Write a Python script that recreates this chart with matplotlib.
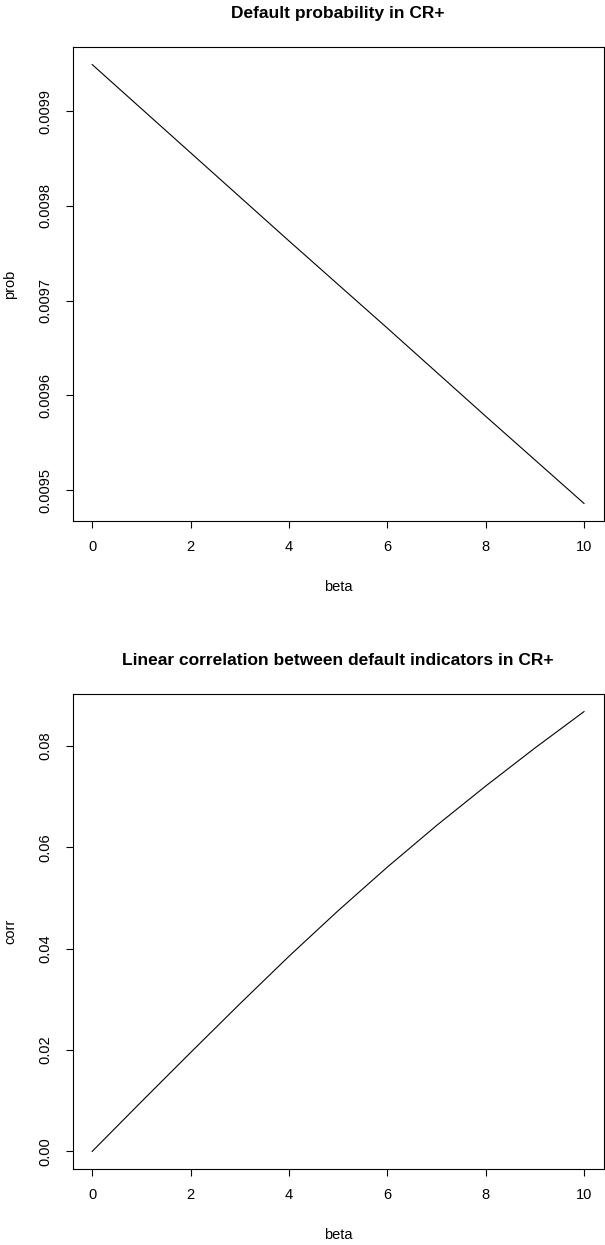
"""Default probability and default-indicator correlation in CR+ versus beta."""
import numpy as np
from matplotlib import pyplot as plt
from matplotlib import rcParams

rcParams["font.family"] = ["Liberation Sans", "DejaVu Sans"]
rcParams["font.size"] = 10.5

# values read along beta
beta = [0, 2, 4, 6, 8, 10]
prob = [0.009949, 0.009856, 0.009763, 0.009671, 0.009578, 0.009486]

beta_corr = [0, 1, 2, 3, 4, 5, 6, 7, 8, 9, 10]
corr = [0.0, 0.0098, 0.0195, 0.0291, 0.0385, 0.0475, 0.0561, 0.0643, 0.0721, 0.0796, 0.0868]

PROB_TICKS = [0.0095, 0.0096, 0.0097, 0.0098, 0.0099]
CORR_TICKS = [0.00, 0.02, 0.04, 0.06, 0.08]
BETA_TICKS = [0, 2, 4, 6, 8, 10]

W, H = 605, 1245
fig = plt.figure(figsize=(W / 100, H / 100), dpi=100)


def r_limits(vals):
    lo, hi = min(vals), max(vals)
    d = 0.04 * (hi - lo)
    return lo - d, hi + d


def panel(box, x, y, title, ylabel, yticks, yfmt):
    left, top, right, bottom = box
    ax = fig.add_axes([left / W, 1 - bottom / H, (right - left) / W, (bottom - top) / H])
    ax.plot(x, y, color="black", lw=0.8)
    ax.set_xlim(r_limits(x))
    ax.set_ylim(r_limits(y))
    ax.set_xticks(BETA_TICKS)
    ax.set_xticklabels([str(b) for b in BETA_TICKS])
    ax.set_yticks(yticks)
    ax.set_yticklabels([yfmt.format(v) for v in yticks], rotation=90, va="center")
    ax.tick_params(direction="out", length=5, width=0.8, color="black")
    ax.tick_params(axis="x", pad=9)
    ax.tick_params(axis="y", pad=9.5)
    for s in ax.spines.values():
        s.set_linewidth(0.8)
        s.set_color("black")
    ax.set_title(title, fontweight="bold", fontsize=12.5, pad=21)
    ax.set_xlabel("beta")
    ax.xaxis.set_label_coords(0.5, -59 / (bottom - top))
    ax.set_ylabel(ylabel)
    ax.yaxis.set_label_coords(-(72.5 - 17) / (right - left), 0.5)
    return ax


panel((72.5, 47, 603.7, 521), beta, prob,
      "Default probability in CR+", "prob", PROB_TICKS, "{:.4f}")
panel((72.5, 694, 603.7, 1169), beta_corr, corr,
      "Linear correlation between default indicators in CR+", "corr", CORR_TICKS, "{:.2f}")

fig.savefig("out.png", dpi=100)
